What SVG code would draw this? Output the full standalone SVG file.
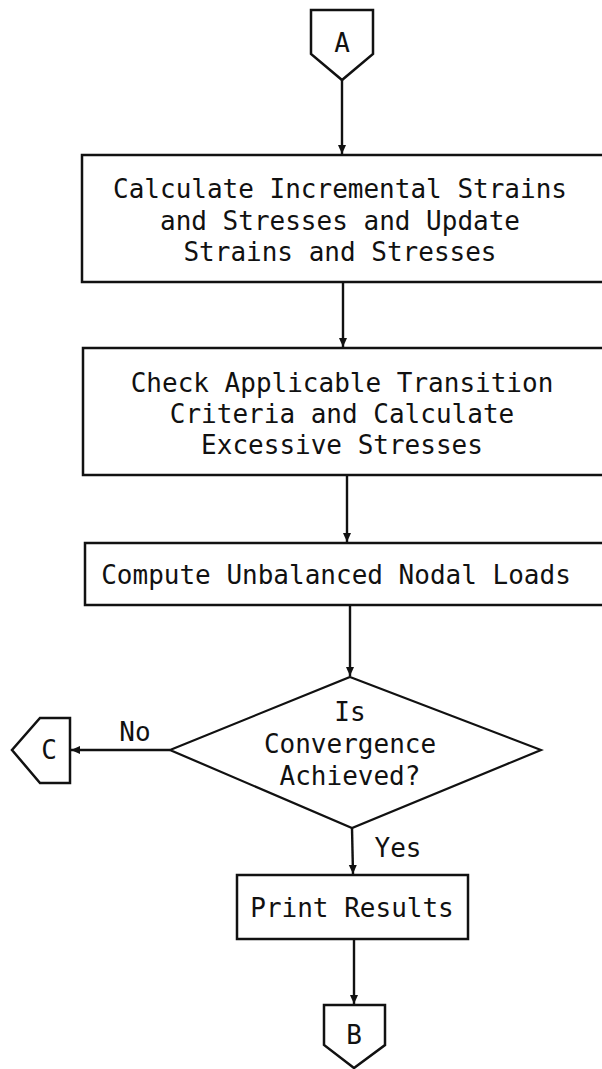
<svg xmlns="http://www.w3.org/2000/svg" width="602" height="1069" viewBox="0 0 602 1069">
<style>
.s{fill:#fff;stroke:#111;stroke-width:2.5;stroke-linejoin:miter}
.t{font-family:"DejaVu Sans Mono","Liberation Mono",monospace;font-size:26px;fill:#111;text-anchor:middle}
.c{fill:none;stroke:#111;stroke-width:2.4}
</style>
<defs>
<marker id="ah" markerWidth="10" markerHeight="10" refX="9" refY="5" orient="auto" markerUnits="userSpaceOnUse">
<path d="M0,1 L9,5 L0,9 Z" fill="#111"/>
</marker>
</defs>
<rect width="602" height="1069" fill="#fff"/>
<g id="connectors">
<line class="c" x1="342" y1="80" x2="342" y2="154" marker-end="url(#ah)"/>
<line class="c" x1="343" y1="282" x2="343" y2="347" marker-end="url(#ah)"/>
<line class="c" x1="347" y1="475" x2="347" y2="542" marker-end="url(#ah)"/>
<line class="c" x1="350" y1="605" x2="350" y2="676" marker-end="url(#ah)"/>
<line class="c" x1="170" y1="750" x2="71" y2="750" marker-end="url(#ah)"/>
<line class="c" x1="352" y1="828" x2="353" y2="874" marker-end="url(#ah)"/>
<line class="c" x1="354" y1="939" x2="354" y2="1004" marker-end="url(#ah)"/>
<text class="t" x="135" y="741">No</text>
<text class="t" x="398" y="857">Yes</text>
</g>
<g id="A">
<polygon class="s" points="311,10 373,10 373,54 342,80 311,54"/>
<text class="t" x="342" y="52">A</text>
</g>
<g id="calc">
<rect class="s" x="82" y="155" width="540" height="127"/>
<text class="t" x="340" y="198">Calculate Incremental Strains</text>
<text class="t" x="340" y="230">and Stresses and Update</text>
<text class="t" x="340" y="261">Strains and Stresses</text>
</g>
<g id="check">
<rect class="s" x="83" y="348" width="540" height="127"/>
<text class="t" x="342" y="392">Check Applicable Transition</text>
<text class="t" x="342" y="423">Criteria and Calculate</text>
<text class="t" x="342" y="454">Excessive Stresses</text>
</g>
<g id="compute">
<rect class="s" x="85" y="543" width="540" height="62"/>
<text class="t" x="336" y="584">Compute Unbalanced Nodal Loads</text>
</g>
<g id="decision">
<polygon class="s" points="350,677 541,750 352,828 170,750" style="stroke-width:2.2"/>
<text class="t" x="350" y="721">Is</text>
<text class="t" x="350" y="753">Convergence</text>
<text class="t" x="350" y="785">Achieved?</text>
</g>
<g id="C">
<polygon class="s" points="70,718 70,783 40,783 12,750 40,718"/>
<text class="t" x="49" y="759">C</text>
</g>
<g id="print">
<rect class="s" x="237" y="875" width="231" height="64"/>
<text class="t" x="352" y="917">Print Results</text>
</g>
<g id="B">
<polygon class="s" points="324,1005 385,1005 385,1045 354,1068 324,1045"/>
<text class="t" x="354" y="1044">B</text>
</g>
</svg>
